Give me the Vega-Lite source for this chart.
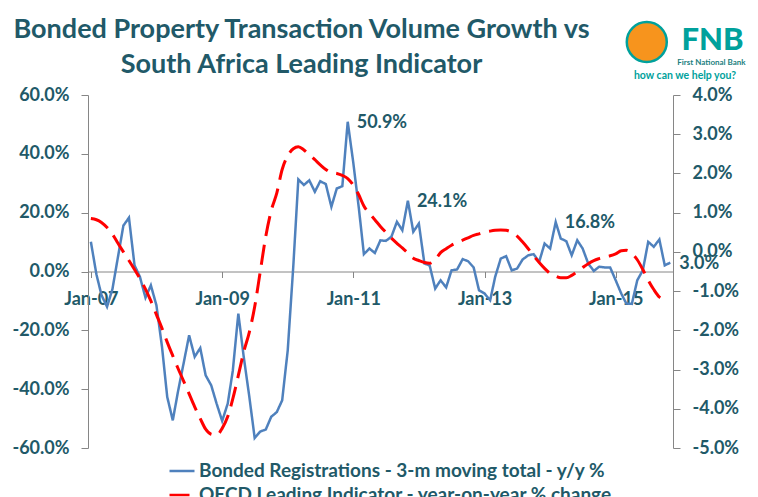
{
  "$schema": "https://vega.github.io/schema/vega-lite/v6.json",
  "width": 585,
  "height": 353,
  "autosize": {"type": "none"},
  "padding": {"left": 88, "top": 95, "right": 85, "bottom": 49},
  "background": "white",
  "config": {
    "view": {"stroke": null},
    "axis": {"grid": false, "domainColor": "#868686", "tickColor": "#868686", "labelFont": "Lato", "labelFontWeight": "bold", "labelFontSize": 18, "labelColor": "#215968", "title": null}
  },
  "title": {
    "text": ["Bonded Property Transaction Volume Growth vs", "South Africa Leading Indicator"],
    "anchor": "middle",
    "dx": -79,
    "dy": 72,
    "font": "Lato",
    "fontSize": 27,
    "fontWeight": "bold",
    "color": "#215968",
    "lineHeight": 35,
    "offset": 10
  },
  "datasets": {
    "bonded": [
      {"date": "2007-01", "series": "Bonded", "value": 10.1},
      {"date": "2007-02", "series": "Bonded", "value": -1},
      {"date": "2007-03", "series": "Bonded", "value": -8},
      {"date": "2007-04", "series": "Bonded", "value": -12},
      {"date": "2007-05", "series": "Bonded", "value": -6},
      {"date": "2007-06", "series": "Bonded", "value": 5},
      {"date": "2007-07", "series": "Bonded", "value": 15.6},
      {"date": "2007-08", "series": "Bonded", "value": 18.3},
      {"date": "2007-09", "series": "Bonded", "value": 2.1},
      {"date": "2007-10", "series": "Bonded", "value": -1.8},
      {"date": "2007-11", "series": "Bonded", "value": -8.9},
      {"date": "2007-12", "series": "Bonded", "value": -4.7},
      {"date": "2008-01", "series": "Bonded", "value": -11.5},
      {"date": "2008-02", "series": "Bonded", "value": -25.6},
      {"date": "2008-03", "series": "Bonded", "value": -42.6},
      {"date": "2008-04", "series": "Bonded", "value": -50.6},
      {"date": "2008-05", "series": "Bonded", "value": -40.5},
      {"date": "2008-06", "series": "Bonded", "value": -31},
      {"date": "2008-07", "series": "Bonded", "value": -21.7},
      {"date": "2008-08", "series": "Bonded", "value": -29},
      {"date": "2008-09", "series": "Bonded", "value": -26},
      {"date": "2008-10", "series": "Bonded", "value": -35.3},
      {"date": "2008-11", "series": "Bonded", "value": -38.7},
      {"date": "2008-12", "series": "Bonded", "value": -44.9},
      {"date": "2009-01", "series": "Bonded", "value": -50.8},
      {"date": "2009-02", "series": "Bonded", "value": -44.9},
      {"date": "2009-03", "series": "Bonded", "value": -33.8},
      {"date": "2009-04", "series": "Bonded", "value": -14.3},
      {"date": "2009-05", "series": "Bonded", "value": -29},
      {"date": "2009-06", "series": "Bonded", "value": -42.5},
      {"date": "2009-07", "series": "Bonded", "value": -56.6},
      {"date": "2009-08", "series": "Bonded", "value": -54.4},
      {"date": "2009-09", "series": "Bonded", "value": -53.7},
      {"date": "2009-10", "series": "Bonded", "value": -49.4},
      {"date": "2009-11", "series": "Bonded", "value": -47.8},
      {"date": "2009-12", "series": "Bonded", "value": -43.8},
      {"date": "2010-01", "series": "Bonded", "value": -26.8},
      {"date": "2010-02", "series": "Bonded", "value": 1.8},
      {"date": "2010-03", "series": "Bonded", "value": 31.3},
      {"date": "2010-04", "series": "Bonded", "value": 29.4},
      {"date": "2010-05", "series": "Bonded", "value": 31},
      {"date": "2010-06", "series": "Bonded", "value": 27.1},
      {"date": "2010-07", "series": "Bonded", "value": 30.7},
      {"date": "2010-08", "series": "Bonded", "value": 29.7},
      {"date": "2010-09", "series": "Bonded", "value": 22},
      {"date": "2010-10", "series": "Bonded", "value": 28.2},
      {"date": "2010-11", "series": "Bonded", "value": 29},
      {"date": "2010-12", "series": "Bonded", "value": 50.9},
      {"date": "2011-01", "series": "Bonded", "value": 37},
      {"date": "2011-02", "series": "Bonded", "value": 21.5},
      {"date": "2011-03", "series": "Bonded", "value": 5.9},
      {"date": "2011-04", "series": "Bonded", "value": 7.8},
      {"date": "2011-05", "series": "Bonded", "value": 6.3},
      {"date": "2011-06", "series": "Bonded", "value": 10.6},
      {"date": "2011-07", "series": "Bonded", "value": 10.4},
      {"date": "2011-08", "series": "Bonded", "value": 11.8},
      {"date": "2011-09", "series": "Bonded", "value": 16.9},
      {"date": "2011-10", "series": "Bonded", "value": 14},
      {"date": "2011-11", "series": "Bonded", "value": 24.1},
      {"date": "2011-12", "series": "Bonded", "value": 13.5},
      {"date": "2012-01", "series": "Bonded", "value": 16.3},
      {"date": "2012-02", "series": "Bonded", "value": 2.7},
      {"date": "2012-03", "series": "Bonded", "value": 2.1},
      {"date": "2012-04", "series": "Bonded", "value": -5.8},
      {"date": "2012-05", "series": "Bonded", "value": -3},
      {"date": "2012-06", "series": "Bonded", "value": -5.4},
      {"date": "2012-07", "series": "Bonded", "value": 0.4},
      {"date": "2012-08", "series": "Bonded", "value": 0.7},
      {"date": "2012-09", "series": "Bonded", "value": 4.2},
      {"date": "2012-10", "series": "Bonded", "value": 3.5},
      {"date": "2012-11", "series": "Bonded", "value": 1.4},
      {"date": "2012-12", "series": "Bonded", "value": -6.4},
      {"date": "2013-01", "series": "Bonded", "value": -7.5},
      {"date": "2013-02", "series": "Bonded", "value": -9.8},
      {"date": "2013-03", "series": "Bonded", "value": -1.8},
      {"date": "2013-04", "series": "Bonded", "value": 4.4},
      {"date": "2013-05", "series": "Bonded", "value": 5.2},
      {"date": "2013-06", "series": "Bonded", "value": 0.4},
      {"date": "2013-07", "series": "Bonded", "value": 1},
      {"date": "2013-08", "series": "Bonded", "value": 4.1},
      {"date": "2013-09", "series": "Bonded", "value": 5.5},
      {"date": "2013-10", "series": "Bonded", "value": 5.9},
      {"date": "2013-11", "series": "Bonded", "value": 3.3},
      {"date": "2013-12", "series": "Bonded", "value": 9.5},
      {"date": "2014-01", "series": "Bonded", "value": 7.8},
      {"date": "2014-02", "series": "Bonded", "value": 16.8},
      {"date": "2014-03", "series": "Bonded", "value": 11.2},
      {"date": "2014-04", "series": "Bonded", "value": 10.3},
      {"date": "2014-05", "series": "Bonded", "value": 5.5},
      {"date": "2014-06", "series": "Bonded", "value": 10.6},
      {"date": "2014-07", "series": "Bonded", "value": 7.8},
      {"date": "2014-08", "series": "Bonded", "value": 2.7},
      {"date": "2014-09", "series": "Bonded", "value": 0.2},
      {"date": "2014-10", "series": "Bonded", "value": 1.6},
      {"date": "2014-11", "series": "Bonded", "value": 1.4},
      {"date": "2014-12", "series": "Bonded", "value": 1.4},
      {"date": "2015-01", "series": "Bonded", "value": -3},
      {"date": "2015-02", "series": "Bonded", "value": -7.5},
      {"date": "2015-03", "series": "Bonded", "value": -10.9},
      {"date": "2015-04", "series": "Bonded", "value": -11},
      {"date": "2015-05", "series": "Bonded", "value": -3},
      {"date": "2015-06", "series": "Bonded", "value": 0.4},
      {"date": "2015-07", "series": "Bonded", "value": 10.1},
      {"date": "2015-08", "series": "Bonded", "value": 8.4},
      {"date": "2015-09", "series": "Bonded", "value": 10.9},
      {"date": "2015-10", "series": "Bonded", "value": 2.1},
      {"date": "2015-11", "series": "Bonded", "value": 3.0}
    ],
    "oecd": [
      {"date": "2007-01", "series": "OECD", "value": 0.85},
      {"date": "2007-02", "series": "OECD", "value": 0.82},
      {"date": "2007-03", "series": "OECD", "value": 0.75},
      {"date": "2007-04", "series": "OECD", "value": 0.62},
      {"date": "2007-05", "series": "OECD", "value": 0.45},
      {"date": "2007-06", "series": "OECD", "value": 0.22},
      {"date": "2007-07", "series": "OECD", "value": 0.0},
      {"date": "2007-08", "series": "OECD", "value": -0.22},
      {"date": "2007-09", "series": "OECD", "value": -0.45},
      {"date": "2007-10", "series": "OECD", "value": -0.68},
      {"date": "2007-11", "series": "OECD", "value": -0.95},
      {"date": "2007-12", "series": "OECD", "value": -1.25},
      {"date": "2008-01", "series": "OECD", "value": -1.6},
      {"date": "2008-02", "series": "OECD", "value": -1.95},
      {"date": "2008-03", "series": "OECD", "value": -2.3},
      {"date": "2008-04", "series": "OECD", "value": -2.65},
      {"date": "2008-05", "series": "OECD", "value": -2.98},
      {"date": "2008-06", "series": "OECD", "value": -3.3},
      {"date": "2008-07", "series": "OECD", "value": -3.62},
      {"date": "2008-08", "series": "OECD", "value": -3.95},
      {"date": "2008-09", "series": "OECD", "value": -4.25},
      {"date": "2008-10", "series": "OECD", "value": -4.52},
      {"date": "2008-11", "series": "OECD", "value": -4.65},
      {"date": "2008-12", "series": "OECD", "value": -4.67},
      {"date": "2009-01", "series": "OECD", "value": -4.5},
      {"date": "2009-02", "series": "OECD", "value": -4.2},
      {"date": "2009-03", "series": "OECD", "value": -3.75},
      {"date": "2009-04", "series": "OECD", "value": -3.15},
      {"date": "2009-05", "series": "OECD", "value": -2.55},
      {"date": "2009-06", "series": "OECD", "value": -2.05},
      {"date": "2009-07", "series": "OECD", "value": -1.4},
      {"date": "2009-08", "series": "OECD", "value": -0.5},
      {"date": "2009-09", "series": "OECD", "value": 0.4},
      {"date": "2009-10", "series": "OECD", "value": 1.05},
      {"date": "2009-11", "series": "OECD", "value": 1.5},
      {"date": "2009-12", "series": "OECD", "value": 2.1},
      {"date": "2010-01", "series": "OECD", "value": 2.45},
      {"date": "2010-02", "series": "OECD", "value": 2.63},
      {"date": "2010-03", "series": "OECD", "value": 2.68},
      {"date": "2010-04", "series": "OECD", "value": 2.6},
      {"date": "2010-05", "series": "OECD", "value": 2.48},
      {"date": "2010-06", "series": "OECD", "value": 2.35},
      {"date": "2010-07", "series": "OECD", "value": 2.22},
      {"date": "2010-08", "series": "OECD", "value": 2.1},
      {"date": "2010-09", "series": "OECD", "value": 2.02},
      {"date": "2010-10", "series": "OECD", "value": 2.0},
      {"date": "2010-11", "series": "OECD", "value": 1.95},
      {"date": "2010-12", "series": "OECD", "value": 1.87},
      {"date": "2011-01", "series": "OECD", "value": 1.7},
      {"date": "2011-02", "series": "OECD", "value": 1.45},
      {"date": "2011-03", "series": "OECD", "value": 1.17},
      {"date": "2011-04", "series": "OECD", "value": 0.98},
      {"date": "2011-05", "series": "OECD", "value": 0.82},
      {"date": "2011-06", "series": "OECD", "value": 0.65},
      {"date": "2011-07", "series": "OECD", "value": 0.5},
      {"date": "2011-08", "series": "OECD", "value": 0.35},
      {"date": "2011-09", "series": "OECD", "value": 0.22},
      {"date": "2011-10", "series": "OECD", "value": 0.1},
      {"date": "2011-11", "series": "OECD", "value": -0.03},
      {"date": "2011-12", "series": "OECD", "value": -0.16},
      {"date": "2012-01", "series": "OECD", "value": -0.22},
      {"date": "2012-02", "series": "OECD", "value": -0.27},
      {"date": "2012-03", "series": "OECD", "value": -0.29},
      {"date": "2012-04", "series": "OECD", "value": -0.2},
      {"date": "2012-05", "series": "OECD", "value": -0.02},
      {"date": "2012-06", "series": "OECD", "value": 0.08},
      {"date": "2012-07", "series": "OECD", "value": 0.17},
      {"date": "2012-08", "series": "OECD", "value": 0.24},
      {"date": "2012-09", "series": "OECD", "value": 0.3},
      {"date": "2012-10", "series": "OECD", "value": 0.36},
      {"date": "2012-11", "series": "OECD", "value": 0.42},
      {"date": "2012-12", "series": "OECD", "value": 0.46},
      {"date": "2013-01", "series": "OECD", "value": 0.5},
      {"date": "2013-02", "series": "OECD", "value": 0.53},
      {"date": "2013-03", "series": "OECD", "value": 0.55},
      {"date": "2013-04", "series": "OECD", "value": 0.56},
      {"date": "2013-05", "series": "OECD", "value": 0.55},
      {"date": "2013-06", "series": "OECD", "value": 0.5},
      {"date": "2013-07", "series": "OECD", "value": 0.4},
      {"date": "2013-08", "series": "OECD", "value": 0.25},
      {"date": "2013-09", "series": "OECD", "value": 0.08},
      {"date": "2013-10", "series": "OECD", "value": -0.1},
      {"date": "2013-11", "series": "OECD", "value": -0.27},
      {"date": "2013-12", "series": "OECD", "value": -0.42},
      {"date": "2014-01", "series": "OECD", "value": -0.55},
      {"date": "2014-02", "series": "OECD", "value": -0.62},
      {"date": "2014-03", "series": "OECD", "value": -0.66},
      {"date": "2014-04", "series": "OECD", "value": -0.66},
      {"date": "2014-05", "series": "OECD", "value": -0.6},
      {"date": "2014-06", "series": "OECD", "value": -0.5},
      {"date": "2014-07", "series": "OECD", "value": -0.4},
      {"date": "2014-08", "series": "OECD", "value": -0.3},
      {"date": "2014-09", "series": "OECD", "value": -0.22},
      {"date": "2014-10", "series": "OECD", "value": -0.17},
      {"date": "2014-11", "series": "OECD", "value": -0.13},
      {"date": "2014-12", "series": "OECD", "value": -0.1},
      {"date": "2015-01", "series": "OECD", "value": -0.05},
      {"date": "2015-02", "series": "OECD", "value": 0.03},
      {"date": "2015-03", "series": "OECD", "value": 0.04},
      {"date": "2015-04", "series": "OECD", "value": -0.04},
      {"date": "2015-05", "series": "OECD", "value": -0.2},
      {"date": "2015-06", "series": "OECD", "value": -0.45},
      {"date": "2015-07", "series": "OECD", "value": -0.72},
      {"date": "2015-08", "series": "OECD", "value": -0.96},
      {"date": "2015-09", "series": "OECD", "value": -1.15},
      {"date": "2015-10", "series": "OECD", "value": -1.22}
    ],
    "labels": [
      {"date": "2010-12", "value": 50.9, "label": "50.9%"},
      {"date": "2011-11", "value": 24.1, "label": "24.1%"},
      {"date": "2014-02", "value": 16.8, "label": "16.8%"},
      {"date": "2015-11", "value": 3.0, "label": "3.0%"}
    ]
  },
  "layer": [
    {
      "layer": [
        {
          "data": {"name": "bonded"},
          "mark": {"type": "line", "strokeWidth": 2.5, "interpolate": "linear"},
          "encoding": {
            "x": {
              "field": "date", "type": "temporal", "timeUnit": "utcyearmonth",
              "scale": {"domain": [{"year": 2006, "month": 12, "date": 16, "utc": true}, {"year": 2015, "month": 11, "date": 16, "utc": true}]},
              "axis": {
                "orient": "bottom", "offset": -176.5, "tickSize": 6, "labelPadding": 13,
                "values": [{"year": 2007, "month": 1, "date": 1, "utc": true}, {"year": 2009, "month": 1, "date": 1, "utc": true}, {"year": 2011, "month": 1, "date": 1, "utc": true}, {"year": 2013, "month": 1, "date": 1, "utc": true}, {"year": 2015, "month": 1, "date": 1, "utc": true}],
                "labelExpr": "utcFormat(datum.value, '%b-%y')"
              }
            },
            "y": {
              "field": "value", "type": "quantitative",
              "scale": {"domain": [-60, 60], "nice": false, "zero": false},
              "axis": {"orient": "left", "values": [-60, -40, -20, 0, 20, 40, 60], "tickSize": 7, "labelPadding": 12,
                "labelExpr": "(datum.value < 0 ? '-' : '') + format(abs(datum.value), '.1f') + '%'"}
            },
            "color": {
              "field": "series", "type": "nominal",
              "scale": {"domain": ["Bonded", "OECD"], "range": ["#4F81BD", "#FF0000"]},
              "legend": {
                "orient": "none", "legendX": 80, "legendY": 362, "direction": "vertical", "title": null,
                "symbolType": "stroke", "symbolSize": 625, "symbolStrokeWidth": 2.5,
                "labelFont": "Lato", "labelFontWeight": "bold", "labelFontSize": 19, "labelColor": "#215968",
                "labelOffset": 3, "rowPadding": 0, "padding": 0, "labelLimit": 600,
                "labelExpr": "datum.label == 'Bonded' ? 'Bonded Registrations - 3-m moving total - y/y %' : 'OECD Leading Indicator - year-on-year % change'"
              }
            },
            "strokeDash": {
              "field": "series", "type": "nominal",
              "scale": {"domain": ["Bonded", "OECD"], "range": [[1, 0], [20, 9]]},
              "legend": null
            }
          }
        },
        {
          "data": {"name": "labels"},
          "mark": {"type": "text", "align": "left", "baseline": "middle", "dx": 9, "dy": 1, "font": "Lato", "fontWeight": "bold", "fontSize": 18, "color": "#215968"},
          "encoding": {
            "x": {"field": "date", "type": "temporal", "timeUnit": "utcyearmonth"},
            "y": {"field": "value", "type": "quantitative"},
            "text": {"field": "label"}
          }
        },
        {
          "data": {"values": [{"name": "FNB logo"}]},
          "mark": {"type": "point", "filled": true, "size": 1600, "fill": "#F7941D", "stroke": "#00A19C", "strokeWidth": 2.5, "opacity": 1},
          "encoding": {
            "x": {"datum": {"year": 2015, "month": 6, "date": 23, "utc": true}, "type": "temporal"},
            "y": {"datum": 78, "type": "quantitative"}
          }
        },
        {
          "data": {"values": [{"text": "FNB"}]},
          "mark": {"type": "text", "align": "center", "baseline": "alphabetic", "font": "Lato", "fontWeight": 900, "fontSize": 31, "color": "#00A19C"},
          "encoding": {
            "x": {"datum": {"year": 2016, "month": 6, "date": 23, "utc": true}, "type": "temporal"},
            "y": {"datum": 75.2, "type": "quantitative"},
            "text": {"field": "text"}
          }
        },
        {
          "data": {"values": [{"text": "First National Bank"}]},
          "mark": {"type": "text", "align": "center", "baseline": "alphabetic", "font": "Lato", "fontWeight": "bold", "fontSize": 8, "color": "#1B7F80"},
          "encoding": {
            "x": {"datum": {"year": 2016, "month": 6, "date": 17, "utc": true}, "type": "temporal"},
            "y": {"datum": 70.1, "type": "quantitative"},
            "text": {"field": "text"}
          }
        },
        {
          "data": {"values": [{"text": "how can we help you?"}]},
          "mark": {"type": "text", "align": "center", "baseline": "middle", "font": "Lato", "fontWeight": "bold", "fontSize": 10.5, "color": "#00A19C"},
          "encoding": {
            "x": {"datum": {"year": 2016, "month": 1, "date": 22, "utc": true}, "type": "temporal"},
            "y": {"datum": 66.4, "type": "quantitative"},
            "text": {"field": "text"}
          }
        }
      ]
    },
    {
      "data": {"name": "oecd"},
      "mark": {"type": "line", "strokeWidth": 3, "interpolate": "monotone"},
      "encoding": {
        "x": {"field": "date", "type": "temporal", "timeUnit": "utcyearmonth"},
        "y": {
          "field": "value", "type": "quantitative",
          "scale": {"domain": [-5, 4], "nice": false, "zero": false},
          "axis": {"orient": "right", "values": [-5, -4, -3, -2, -1, 0, 1, 2, 3, 4], "tickSize": 7, "labelPadding": 12,
            "labelExpr": "(datum.value < 0 ? '-' : '') + format(abs(datum.value), '.1f') + '%'"}
        },
        "color": {"field": "series", "type": "nominal"},
        "strokeDash": {"field": "series", "type": "nominal"}
      }
    }
  ],
  "resolve": {"scale": {"y": "independent"}, "axis": {"y": "independent"}}
}
